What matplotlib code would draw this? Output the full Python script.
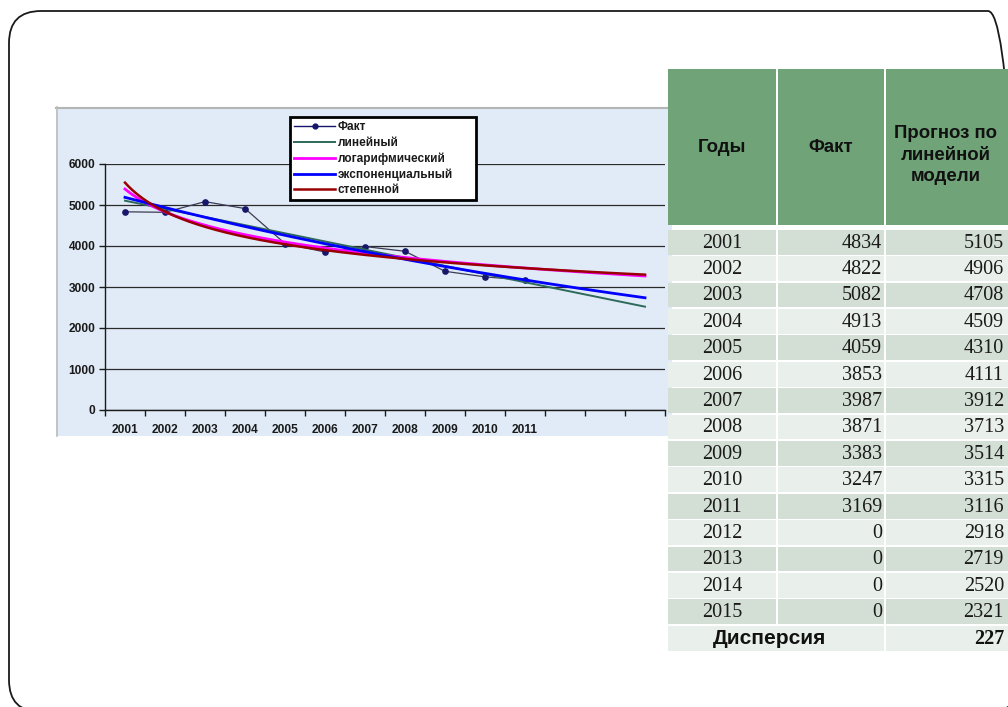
import numpy as np
import matplotlib.pyplot as plt
from matplotlib.patches import Rectangle, FancyBboxPatch

# table / chart data
years = [2001, 2002, 2003, 2004, 2005, 2006, 2007, 2008, 2009, 2010, 2011, 2012, 2013, 2014, 2015]
fact = [4834, 4822, 5082, 4913, 4059, 3853, 3987, 3871, 3383, 3247, 3169, 0, 0, 0, 0]
forecast_linear = [5105, 4906, 4708, 4509, 4310, 4111, 3912, 3713, 3514, 3315, 3116, 2918, 2719, 2520, 2321]
dispersion = 227
header = ['Годы', 'Факт', 'Прогноз по\nлинейной\nмодели']
legend_labels = ['Факт', 'линейный', 'логарифмический', 'экспоненциальный', 'степенной']
n_obs = 11      # years with actual values
n_cat = 14      # categories on the chart axis (3 forecast periods)

W, H = 1008, 707
fig = plt.figure(figsize=(W / 100, H / 100), dpi=100)
fig.patch.set_facecolor('white')

# background layer: slide frame and chart picture (y measured from the bottom here)
bg = fig.add_axes([0, 0, 1, 1])
bg.set_xlim(0, W)
bg.set_ylim(0, H)
bg.axis('off')
bg.add_patch(FancyBboxPatch((9, H - 712), 1011, 701, boxstyle='round,pad=0,rounding_size=32',
                            fill=False, ec='#1a1a1a', lw=1.3))
bg.add_patch(Rectangle((56, H - 436), 616, 329, fc='#e0ebf7', ec='none'))
bg.plot([56, 672], [H - 107.5, H - 107.5], color='#b5b5b5', lw=1.5)
bg.plot([56.5, 56.5], [H - 107, H - 436], color='#bdbdbd', lw=1.2)

# chart
ax = fig.add_axes([105 / W, 1 - 410 / H, 560 / W, 246 / H])
ax.set_facecolor('none')
ax.set_xlim(0.5, n_cat + 0.5)
ax.set_ylim(0, 6000)
ax.set_yticks(range(0, 7000, 1000))
ax.yaxis.grid(True, color='#2a2a2a', lw=0.9)
ax.set_axisbelow(True)
for s in ['top', 'right']:
    ax.spines[s].set_visible(False)
for s in ['left', 'bottom']:
    ax.spines[s].set_color('#1a1a1a')
    ax.spines[s].set_linewidth(1.0)

t = np.arange(1, n_obs + 1)
ax.set_xticks(t)
ax.set_xticklabels([str(y) for y in years[:n_obs]])
ax.set_xticks(np.arange(0.5, n_cat + 1, 1), minor=True)
ax.tick_params(axis='x', which='major', length=0, pad=10)
ax.tick_params(axis='x', which='minor', length=4, width=1, color='#1a1a1a')
ax.tick_params(axis='y', length=4, width=1, color='#1a1a1a', pad=3)
for lab in ax.get_xticklabels() + ax.get_yticklabels():
    lab.set_family(['Liberation Sans', 'DejaVu Sans'])
    lab.set_fontweight('bold')
    lab.set_fontsize(8.6)
    lab.set_color('#1a1a1a')

y = np.array(fact[:n_obs], dtype=float)
tt = np.linspace(1, n_cat, 300)
b_log, a_log = np.polyfit(np.log(t), y, 1)
k_exp, c_exp = np.polyfit(t, np.log(y), 1)
b_pow, c_pow = np.polyfit(np.log(t), np.log(y), 1)

h_fact, = ax.plot(t, y, color='#3c3c55', lw=0.9, marker='o', ms=3.8,
                  mfc='#16166a', mec='#16166a', zorder=3)
h_lin, = ax.plot(np.arange(1, n_cat + 1), forecast_linear[:n_cat], color='#2d6a5a', lw=1.4, zorder=4)
h_log, = ax.plot(tt, a_log + b_log * np.log(tt), color='#ff00ff', lw=2.0, zorder=5)
h_exp, = ax.plot(tt, np.exp(c_exp + k_exp * tt), color='#0000ff', lw=2.0, zorder=6)
h_pow, = ax.plot(tt, np.exp(c_pow) * tt ** b_pow, color='#990000', lw=1.8, zorder=7)

h_leg_fact, = ax.plot([], [], color='#16166a', lw=1.0, marker='o', ms=3.5)
leg = fig.legend([h_leg_fact, h_lin, h_log, h_exp, h_pow], legend_labels,
                 loc='upper left', bbox_to_anchor=(290 / W, 1 - 197 / H, 186 / W, 80 / H),
                 mode='expand', borderaxespad=0, fancybox=False, framealpha=1,
                 edgecolor='black', labelspacing=0.3, handlelength=3.5, handletextpad=0.2,
                 borderpad=0.35, prop={'family': ['Liberation Sans', 'DejaVu Sans'],
                                       'weight': 'bold', 'size': 8.5})
leg.get_frame().set_linewidth(2.0)
for txt in leg.get_texts():
    txt.set_color('#1a1a1a')

# table layer (pixel coordinates, y downwards)
tb = fig.add_axes([0, 0, 1, 1])
tb.set_xlim(0, W)
tb.set_ylim(H, 0)
tb.axis('off')
tb.patch.set_alpha(0)

cols = [668, 777, 885, 1012]
green = '#71a379'
dark_row = '#d3dfd5'
light_row = '#e9efea'
sans = ['Liberation Sans', 'DejaVu Sans']
serif = ['Liberation Serif', 'DejaVu Serif']

hdr_top, hdr_bot = 69, 225
hdr_x = [722, 831, 946]
hdr_y = [148, 148, 155]
for j in range(3):
    x0 = cols[j] + (1 if j > 0 else 0)
    x1 = cols[j + 1] - 1
    tb.add_patch(Rectangle((x0, hdr_top), x1 - x0, hdr_bot - hdr_top, fc=green, ec='none'))
    tb.text(hdr_x[j], hdr_y[j], header[j], ha='center', va='center', family=sans,
            weight='bold', fontsize=13.4, linespacing=1.38, color='#111111')

row_top = 229
row_h = 26.4
for i in range(len(years) + 1):
    y0 = row_top + i * row_h
    fc = dark_row if i % 2 == 0 else light_row
    yc = y0 + row_h / 2
    if i < len(years):
        for j in range(3):
            x0 = cols[j] + (1 if j > 0 else 0)
            x1 = cols[j + 1] - 1
            tb.add_patch(Rectangle((x0, y0 + 0.8), x1 - x0, row_h - 1.6, fc=fc, ec='none'))
        tb.text(722, yc + 1, str(years[i]), ha='center', va='center', family=serif,
                fontsize=14.5, color='#1a1a1a')
        tb.text(882, yc + 1, str(fact[i]), ha='right', va='center', family=serif,
                fontsize=14.5, color='#1a1a1a')
        tb.text(1004, yc + 1, str(forecast_linear[i]), ha='right', va='center', family=serif,
                fontsize=14.5, color='#1a1a1a')
    else:
        tb.add_patch(Rectangle((cols[0], y0 + 0.8), cols[2] - 1 - cols[0], row_h - 1.6, fc=fc, ec='none'))
        tb.add_patch(Rectangle((cols[2] + 1, y0 + 0.8), cols[3] - cols[2] - 2, row_h - 1.6, fc=fc, ec='none'))
        tb.text(770, yc, 'Дисперсия', ha='center', va='center', family=sans, weight='bold',
                fontsize=15, color='#111111')
        tb.text(1004, yc + 1, str(dispersion), ha='right', va='center', family=serif,
                weight='bold', fontsize=14.5, color='#111111')

fig.savefig('out.png', dpi=100, facecolor='white')
